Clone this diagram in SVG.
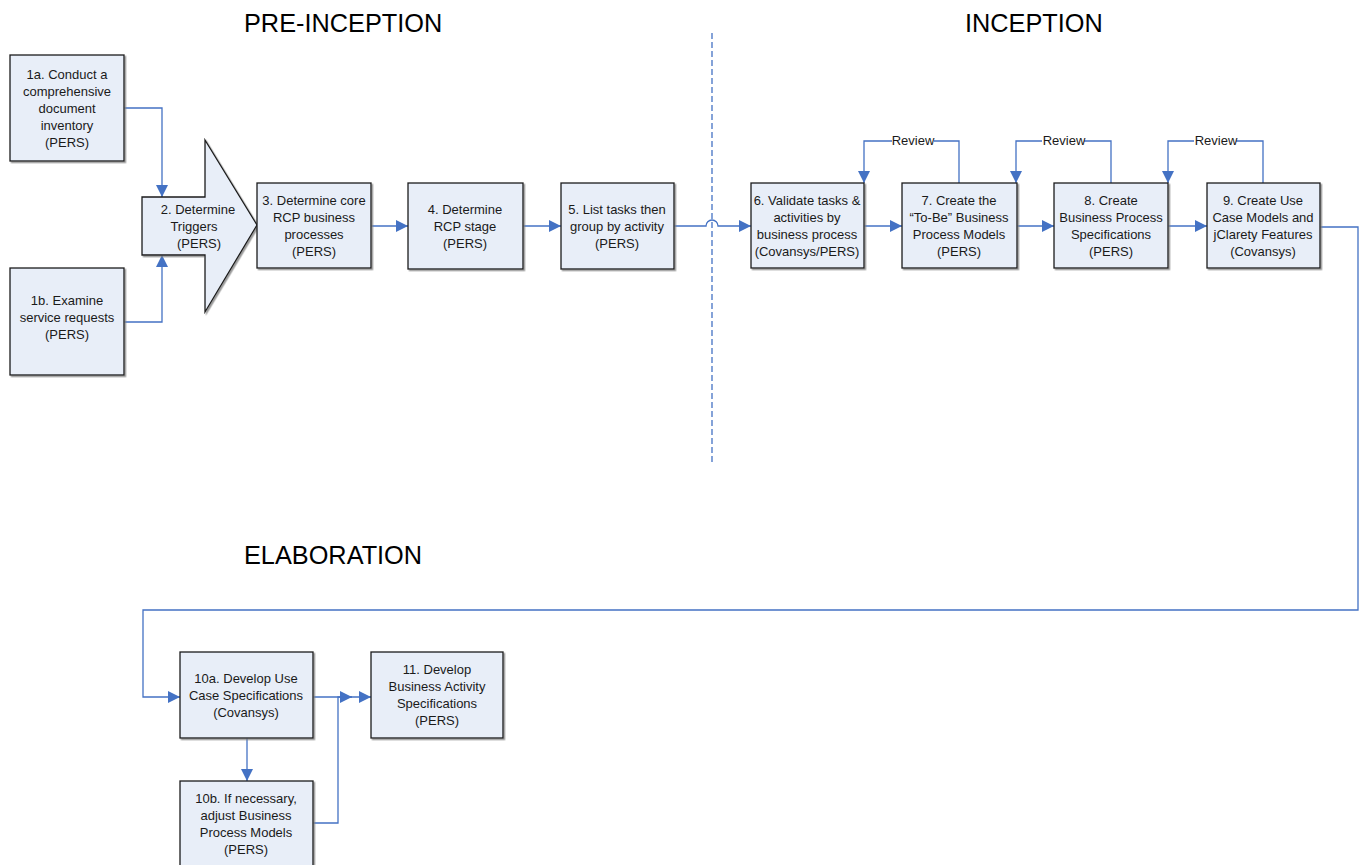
<svg xmlns="http://www.w3.org/2000/svg" width="1363" height="865" viewBox="0 0 1363 865">
<defs>
<marker id="ah" viewBox="0 0 10 10" refX="10" refY="5" markerWidth="12" markerHeight="12" markerUnits="userSpaceOnUse" orient="auto"><path d="M0,0 L10,5 L0,10 z" fill="#4472c4"/></marker>
<filter id="sh" x="-10%" y="-10%" width="130%" height="130%"><feDropShadow dx="1.5" dy="1.5" stdDeviation="0.6" flood-color="#808080" flood-opacity="0.8"/></filter>
</defs>
<style>
.box{fill:#e8eef8;stroke:#1a1a1a;stroke-width:1.3;filter:url(#sh)}
.t{font-family:"Liberation Sans",Arial,sans-serif;font-size:13px;fill:#1a1a1a;text-anchor:middle}
.h{font-family:"Liberation Sans",Arial,sans-serif;font-size:25.3px;fill:#000}
.c{fill:none;stroke:#4472c4;stroke-width:1.3}
.ca{fill:none;stroke:#4472c4;stroke-width:1.3;marker-end:url(#ah)}
.lbl{font-family:"Liberation Sans",Arial,sans-serif;font-size:13px;fill:#1a1a1a;text-anchor:middle}
</style>
<rect width="1363" height="865" fill="#fff"/>
<text class="h" x="244" y="32">PRE-INCEPTION</text>
<text class="h" x="965" y="32">INCEPTION</text>
<text class="h" x="244" y="564">ELABORATION</text>
<line x1="712" y1="33" x2="712" y2="462" stroke="#4472c4" stroke-width="1.3" stroke-dasharray="6,3"/>
<g id="connectors">
<path class="ca" d="M124,108 H162 V197"/>
<path class="ca" d="M124,322 H162 V255"/>
<path class="ca" d="M371,226 H408"/>
<path class="ca" d="M523,226 H561"/>
<path class="ca" d="M674,226 H706 A6,6 0 0 1 718,226 H751"/>
<path class="ca" d="M864,226 H902"/>
<path class="ca" d="M1017,226 H1054"/>
<path class="ca" d="M1168,226 H1207"/>
<path class="ca" d="M959,183 V141 H864 V183"/>
<path class="ca" d="M1111,183 V141 H1016 V183"/>
<path class="ca" d="M1263,183 V141 H1168 V183"/>
<rect x="892" y="133" width="42" height="14" fill="#fff"/>
<text class="lbl" x="913" y="145">Review</text>
<rect x="1042" y="133" width="42" height="14" fill="#fff"/>
<text class="lbl" x="1064" y="145">Review</text>
<rect x="1194" y="133" width="42" height="14" fill="#fff"/>
<text class="lbl" x="1216" y="145">Review</text>
<path class="ca" d="M1320,227 H1358 V610 H143 V697 H180"/>
<path class="ca" d="M247,738 V781"/>
<path class="ca" d="M313,697 H352"/>
<path class="ca" d="M313,823 H338 V697 H371"/>
</g>
<g id="n1a"><rect class="box" x="10" y="55" width="114" height="106"/>
<text class="t"><tspan x="67" y="79">1a. Conduct a</tspan><tspan x="67" y="96">comprehensive</tspan><tspan x="67" y="113">document</tspan><tspan x="67" y="130">inventory</tspan><tspan x="67" y="147">(PERS)</tspan></text></g>
<g id="n1b"><rect class="box" x="10" y="268" width="114" height="107"/>
<text class="t"><tspan x="67" y="305">1b. Examine</tspan><tspan x="67" y="322">service requests</tspan><tspan x="67" y="339">(PERS)</tspan></text></g>
<g id="n2"><path class="box" d="M142,197 H205 V140 L257,225 L205,312 V255 H142 Z"/>
<text class="t"><tspan x="198" y="214">2. Determine</tspan><tspan x="194" y="231">Triggers</tspan><tspan x="199" y="248">(PERS)</tspan></text></g>
<g id="n3"><rect class="box" x="257" y="183" width="114" height="85"/>
<text class="t"><tspan x="314" y="205">3. Determine core</tspan><tspan x="314" y="222">RCP business</tspan><tspan x="314" y="239">processes</tspan><tspan x="314" y="256">(PERS)</tspan></text></g>
<g id="n4"><rect class="box" x="408" y="183" width="115" height="86"/>
<text class="t"><tspan x="465" y="214">4. Determine</tspan><tspan x="465" y="231">RCP stage</tspan><tspan x="465" y="248">(PERS)</tspan></text></g>
<g id="n5"><rect class="box" x="561" y="183" width="113" height="86"/>
<text class="t"><tspan x="617" y="214">5. List tasks then</tspan><tspan x="617" y="231">group by activity</tspan><tspan x="617" y="248">(PERS)</tspan></text></g>
<g id="n6"><rect class="box" x="751" y="183" width="113" height="85"/>
<text class="t"><tspan x="807" y="205">6. Validate tasks &amp;</tspan><tspan x="807" y="222">activities by</tspan><tspan x="807" y="239">business process</tspan><tspan x="807" y="256">(Covansys/PERS)</tspan></text></g>
<g id="n7"><rect class="box" x="902" y="183" width="115" height="85"/>
<text class="t"><tspan x="959" y="205">7. Create the</tspan><tspan x="959" y="222">“To-Be” Business</tspan><tspan x="959" y="239">Process Models</tspan><tspan x="959" y="256">(PERS)</tspan></text></g>
<g id="n8"><rect class="box" x="1054" y="183" width="114" height="85"/>
<text class="t"><tspan x="1111" y="205">8. Create</tspan><tspan x="1111" y="222">Business Process</tspan><tspan x="1111" y="239">Specifications</tspan><tspan x="1111" y="256">(PERS)</tspan></text></g>
<g id="n9"><rect class="box" x="1207" y="183" width="113" height="85"/>
<text class="t"><tspan x="1263" y="205">9. Create Use</tspan><tspan x="1263" y="222">Case Models and</tspan><tspan x="1263" y="239">jClarety Features</tspan><tspan x="1263" y="256">(Covansys)</tspan></text></g>
<g id="n10a"><rect class="box" x="180" y="652" width="133" height="86"/>
<text class="t"><tspan x="246" y="683">10a. Develop Use</tspan><tspan x="246" y="700">Case Specifications</tspan><tspan x="246" y="717">(Covansys)</tspan></text></g>
<g id="n10b"><rect class="box" x="180" y="781" width="133" height="90"/>
<text class="t"><tspan x="246" y="803">10b. If necessary,</tspan><tspan x="246" y="820">adjust Business</tspan><tspan x="246" y="837">Process Models</tspan><tspan x="246" y="854">(PERS)</tspan></text></g>
<g id="n11"><rect class="box" x="371" y="652" width="132" height="86"/>
<text class="t"><tspan x="437" y="674">11. Develop</tspan><tspan x="437" y="691">Business Activity</tspan><tspan x="437" y="708">Specifications</tspan><tspan x="437" y="725">(PERS)</tspan></text></g>
</svg>
